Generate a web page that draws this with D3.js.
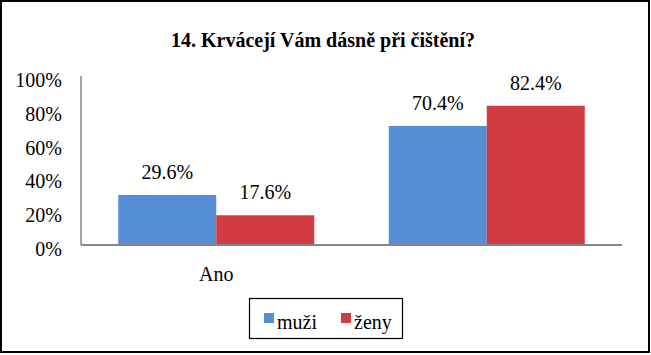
<!DOCTYPE html>
<html>
<head>
<meta charset="utf-8">
<script src="https://cdn.jsdelivr.net/npm/d3@7"></script>
</head>
<body style="margin:0">
<svg width="651" height="355"></svg>
<script>
var width = 651;
var height = 355;
var serif = "'Liberation Serif'";

var title = "14. Krvácejí Vám dásně při čištění?";
var categories = ["Ano", ""];
var seriesNames = ["muži", "ženy"];
var muzi = [29.6, 70.4];
var zeny = [17.6, 82.4];
var yTicks = [0, 20, 40, 60, 80, 100];
var colors = ["#558ed5", "#d33b43"];

var plot = { left: 81, right: 622, top: 76, bottom: 245 };

var svg = d3.select("svg");

svg.append("rect")
    .attr("x", 1).attr("y", 1)
    .attr("width", 648).attr("height", 351)
    .attr("fill", "#fff")
    .attr("stroke", "#000")
    .attr("stroke-width", 2);

function label(sel) {
    return sel.attr("font-family", serif).attr("font-size", 20).attr("fill", "#000");
}

svg.append("text")
    .attr("x", 323).attr("y", 47)
    .attr("text-anchor", "middle")
    .call(label)
    .attr("font-weight", "bold")
    .text(title);

var x = d3.scaleBand()
    .domain(d3.range(categories.length))
    .range([plot.left, plot.right])
    .paddingInner(0.2754)
    .paddingOuter(0.1377);

var xs = d3.scaleBand()
    .domain(seriesNames)
    .range([0, x.bandwidth()]);

var y = d3.scaleLinear()
    .domain([0, 100])
    .range([plot.bottom, plot.top]);

// y axis: line only, labels drawn as plain text
svg.append("line")
    .attr("x1", plot.left).attr("x2", plot.left)
    .attr("y1", y(100)).attr("y2", y(0))
    .attr("stroke", "#868686").attr("stroke-width", 1.5);

svg.selectAll("text.ytick")
    .data(yTicks)
    .enter().append("text")
    .attr("class", "ytick")
    .attr("x", plot.left - 19)
    .attr("y", function(d) { return y(d) + 11; })
    .attr("text-anchor", "end")
    .call(label)
    .text(function(d) { return d + "%"; });

var data = [];
categories.forEach(function(c, i) {
    data.push({ cat: i, s: seriesNames[0], v: muzi[i], color: colors[0] });
    data.push({ cat: i, s: seriesNames[1], v: zeny[i], color: colors[1] });
});

svg.selectAll("rect.bar")
    .data(data)
    .enter().append("rect")
    .attr("class", "bar")
    .attr("x", function(d) { return x(d.cat) + xs(d.s); })
    .attr("y", function(d) { return y(d.v); })
    .attr("width", xs.bandwidth())
    .attr("height", function(d) { return y(0) - y(d.v); })
    .attr("fill", function(d) { return d.color; });

svg.selectAll("text.lbl")
    .data(data)
    .enter().append("text")
    .attr("class", "lbl")
    .attr("x", function(d) { return x(d.cat) + xs(d.s) + xs.bandwidth() / 2; })
    .attr("y", function(d) { return y(d.v) - 16; })
    .attr("text-anchor", "middle")
    .call(label)
    .text(function(d) { return d.v.toFixed(1) + "%"; });

// x axis
svg.append("line")
    .attr("x1", plot.left).attr("x2", plot.right)
    .attr("y1", y(0)).attr("y2", y(0))
    .attr("stroke", "#868686").attr("stroke-width", 2);

svg.selectAll("text.xtick")
    .data(categories)
    .enter().append("text")
    .attr("class", "xtick")
    .attr("x", function(d, i) { return x(i) + x.bandwidth() / 2; })
    .attr("y", y(0) + 36)
    .attr("text-anchor", "middle")
    .call(label)
    .text(function(d) { return d; });

// legend
var legend = svg.append("g");
legend.append("rect")
    .attr("x", 249.5).attr("y", 298.5)
    .attr("width", 153).attr("height", 40)
    .attr("fill", "none")
    .attr("stroke", "#000")
    .attr("stroke-width", 1.2);
var lx = [264, 341];
seriesNames.forEach(function(s, i) {
    legend.append("rect")
        .attr("x", lx[i]).attr("y", 313)
        .attr("width", 10).attr("height", 10)
        .attr("fill", colors[i]);
    legend.append("text")
        .attr("x", lx[i] + 13).attr("y", 329)
        .call(label)
        .text(s);
});
</script>
</body>
</html>
